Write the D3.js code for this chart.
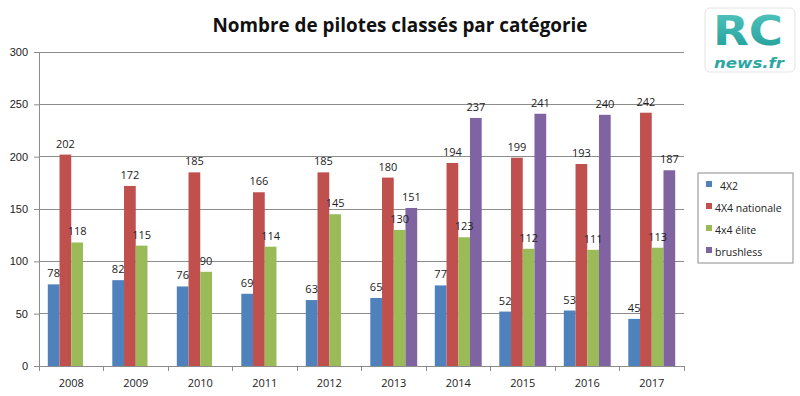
<!DOCTYPE html>
<html>
<head>
<meta charset="utf-8">
<script src="https://cdn.jsdelivr.net/npm/d3@7"></script>
<style>
  body { margin: 0; background: #fff; }
  svg { display: block; font-family: "Open Sans", "DejaVu Sans", sans-serif; }
</style>
</head>
<body>
<div id="chart"></div>
<script>
// data
const years = ['2008', '2009', '2010', '2011', '2012', '2013', '2014', '2015', '2016', '2017'];
const seriesNames = ['4X2', '4X4 nationale', '4x4 élite', 'brushless'];
const s4x2 = [78, 82, 76, 69, 63, 65, 77, 52, 53, 45];
const s4x4nat = [202, 172, 185, 166, 185, 180, 194, 199, 193, 242];
const s4x4elite = [118, 115, 90, 114, 145, 130, 123, 112, 111, 113];
const sBrushless = [null, null, null, null, null, 151, 237, 241, 240, 187];
const yTicks = [0, 50, 100, 150, 200, 250, 300];
const colors = ['#4F81BD', '#C0504D', '#9BBB59', '#8064A2'];

const allSeries = [s4x2, s4x4nat, s4x4elite, sBrushless];

const width = 800, height = 396;
const plot = { left: 39, right: 684, top: 52, bottom: 366 };

const svg = d3.select('#chart').append('svg')
  .attr('width', width)
  .attr('height', height);

// title
svg.append('text')
  .attr('x', 400)
  .attr('y', 32)
  .attr('text-anchor', 'middle')
  .attr('textLength', 375)
  .attr('lengthAdjust', 'spacingAndGlyphs')
  .style('font-size', '20px')
  .style('font-weight', 'bold')
  .style('fill', '#111')
  .text('Nombre de pilotes classés par catégorie');

const x0 = d3.scaleBand()
  .domain(years)
  .range([plot.left, plot.right])
  .padding(0);

const x1 = d3.scaleBand()
  .domain(seriesNames)
  .range([0, x0.bandwidth()])
  .paddingInner(0)
  .paddingOuter(0.75);

const y = d3.scaleLinear()
  .domain([0, 300])
  .range([plot.bottom, plot.top]);

// gridlines
svg.append('g')
  .selectAll('line')
  .data(yTicks.filter(d => d > 0))
  .enter().append('line')
  .attr('x1', plot.left)
  .attr('x2', plot.right)
  .attr('y1', d => y(d))
  .attr('y2', d => y(d))
  .attr('stroke', '#8c8c8c')
  .attr('stroke-width', 1)
  .attr('shape-rendering', 'crispEdges');

// y axis
const yAxis = svg.append('g')
  .attr('transform', 'translate(' + plot.left + ',0)')
  .call(d3.axisLeft(y).tickValues(yTicks).tickSize(5).tickPadding(6));
yAxis.select('.domain').attr('stroke', '#8c8c8c');
yAxis.selectAll('.tick line').attr('stroke', '#8c8c8c');
yAxis.selectAll('text').style('font-size', '11px').style('fill', '#222');

// x axis: ticks at category boundaries
const xAxis = svg.append('g')
  .attr('transform', 'translate(0,' + plot.bottom + ')');
xAxis.append('line')
  .attr('x1', plot.left).attr('x2', plot.right)
  .attr('stroke', '#8c8c8c')
  .attr('shape-rendering', 'crispEdges');
xAxis.selectAll('.sep')
  .data(years.concat(['end']))
  .enter().append('line')
  .attr('class', 'sep')
  .attr('x1', (d, i) => i < years.length ? x0(d) : plot.right)
  .attr('x2', (d, i) => i < years.length ? x0(d) : plot.right)
  .attr('y1', 0).attr('y2', 5)
  .attr('stroke', '#8c8c8c')
  .attr('shape-rendering', 'crispEdges');
xAxis.selectAll('.lbl')
  .data(years)
  .enter().append('text')
  .attr('class', 'lbl')
  .attr('x', d => x0(d) + x0.bandwidth() / 2)
  .attr('y', 21)
  .attr('text-anchor', 'middle')
  .style('font-size', '11px')
  .style('fill', '#222')
  .text(d => d);

// bars
const groups = svg.append('g')
  .selectAll('g')
  .data(years)
  .enter().append('g')
  .attr('transform', d => 'translate(' + x0(d) + ',0)');

const cells = groups.selectAll('rect')
  .data((d, i) => seriesNames.map((s, k) => ({ s: s, k: k, v: allSeries[k][i] })).filter(c => c.v != null))
  .enter();

cells.append('rect')
  .attr('x', d => x1(d.s))
  .attr('y', d => y(d.v))
  .attr('width', x1.bandwidth())
  .attr('height', d => y(0) - y(d.v))
  .attr('fill', d => colors[d.k]);

cells.append('text')
  .attr('x', d => x1(d.s) + x1.bandwidth() / 2)
  .attr('y', d => y(d.v) - 7)
  .attr('text-anchor', 'middle')
  .style('font-size', '11px')
  .style('fill', '#222')
  .text(d => d.v);

// legend
const legend = svg.append('g').attr('transform', 'translate(698,173)');
legend.append('rect')
  .attr('width', 95).attr('height', 90)
  .attr('fill', '#fff')
  .attr('stroke', '#8c8c8c');
const li = legend.selectAll('.li')
  .data(seriesNames)
  .enter().append('g')
  .attr('class', 'li')
  .attr('transform', (d, i) => 'translate(8,' + (13 + i * 22) + ')');
li.append('rect')
  .attr('x', 0).attr('y', -5)
  .attr('width', 6).attr('height', 6)
  .attr('fill', (d, i) => colors[i]);
li.append('text')
  .attr('x', (d, i) => i === 0 ? 14 : 9)
  .attr('y', 1)
  .attr('dy', '0.3em')
  .style('font-size', '10.5px')
  .style('fill', '#222')
  .text(d => d);

// logo
const logo = svg.append('g').attr('transform', 'translate(705,8)');
logo.append('rect')
  .attr('width', 90).attr('height', 64)
  .attr('rx', 5)
  .attr('fill', '#fff')
  .attr('stroke', '#e4e4e4');
const grad = svg.append('defs').append('linearGradient')
  .attr('id', 'teal').attr('x1', 0).attr('y1', 0).attr('x2', 0).attr('y2', 1);
grad.append('stop').attr('offset', '0%').attr('stop-color', '#54c6bf');
grad.append('stop').attr('offset', '100%').attr('stop-color', '#1f9c98');
logo.append('text')
  .attr('x', 43).attr('y', 37)
  .attr('text-anchor', 'middle')
  .attr('textLength', 70)
  .attr('lengthAdjust', 'spacingAndGlyphs')
  .style('font-family', '"DejaVu Sans", sans-serif')
  .style('font-size', '40px')
  .style('font-weight', 'bold')
  .style('fill', 'url(#teal)')
  .style('stroke', '#fff')
  .style('stroke-width', 1.5)
  .style('paint-order', 'stroke')
  .text('RC');
logo.append('text')
  .attr('x', 44).attr('y', 60)
  .attr('text-anchor', 'middle')
  .attr('textLength', 70)
  .attr('lengthAdjust', 'spacingAndGlyphs')
  .style('font-family', '"DejaVu Sans", sans-serif')
  .style('font-size', '14px')
  .style('font-weight', 'bold')
  .style('font-style', 'italic')
  .style('fill', '#2aa7a2')
  .style('stroke', '#fff')
  .style('stroke-width', 1)
  .style('paint-order', 'stroke')
  .text('news.fr');
</script>
</body>
</html>
